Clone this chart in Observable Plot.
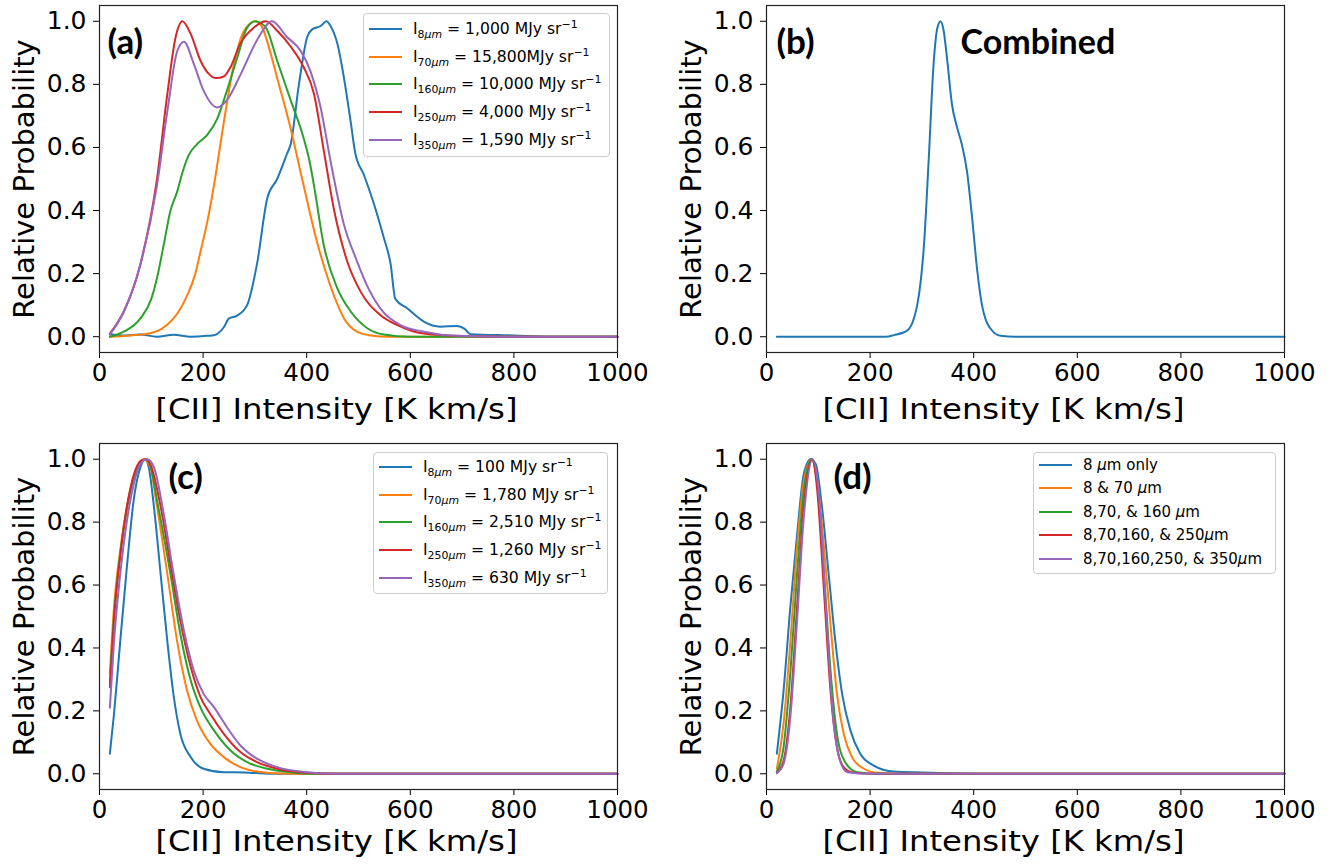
<!DOCTYPE html>
<html><head><meta charset="utf-8">
<script src="https://cdn.jsdelivr.net/npm/d3@7"></script>
<script src="https://cdn.jsdelivr.net/npm/@observablehq/plot@0.6"></script>
<style>
body{margin:0;background:#fff;}
#wrap{position:relative;width:1338px;height:865px;overflow:hidden;font-family:"DejaVu Sans",sans-serif;}
.panel{position:absolute;}
.legend{position:absolute;background:rgba(255,255,255,0.8);border:1px solid #cccccc;border-radius:4px;box-sizing:border-box;font-family:"DejaVu Sans",sans-serif;color:#000;}
.row{display:flex;align-items:center;white-space:nowrap;}
.swatch{display:inline-block;width:33px;height:2px;margin-right:11px;flex:none;}
.legend sub,.legend sup{font-size:0.7em;line-height:0;}
.legend sub{vertical-align:-0.35em;}
.legend sup{vertical-align:0.55em;}
</style></head><body><div id="wrap"></div>
<script>
// ---------- data ----------
const xTicks = [0, 200, 400, 600, 800, 1000];
const yTicks = [0, 0.2, 0.4, 0.6, 0.8, 1.0];
const colors = ["#1f77b4", "#ff7f0e", "#2ca02c", "#d62728", "#9467bd"];
const bands = ["8", "70", "160", "250", "350"];
const xLabel = "[CII] Intensity [K km/s]";
const yLabel = "Relative Probability";
const tags = ["(a)", "(b)", "(c)", "(d)"];
const combinedLabel = "Combined";

// panel (a): high-intensity inputs
const a8 = [[20,0.008],[50,0.004],[79,0.007],[111,0.0],[143,0.006],[176,0.0],[208,0.003],[221,0.005],[240,0.03],[250,0.058],[266,0.067],[285,0.10],[304,0.23],[324,0.44],[343,0.50],[362,0.58],[369,0.61],[385,0.8],[401,0.95],[411,0.975],[427,0.985],[438,1.0],[446,0.985],[459,0.93],[472,0.82],[485,0.68],[494,0.58],[510,0.515],[530,0.42],[549,0.313],[562,0.23],[571,0.12],[594,0.09],[626,0.048],[658,0.032],[690,0.034],[705,0.025],[716,0.008],[800,0.004],[870,0.0],[1000,0.0]];
const a70 = [[20,0.0],[60,0.004],[100,0.012],[120,0.025],[143,0.058],[160,0.1],[169,0.13],[185,0.2],[195,0.27],[210,0.38],[221,0.48],[240,0.68],[259,0.86],[279,0.97],[302,1.0],[317,0.97],[330,0.9],[343,0.82],[369,0.66],[394,0.48],[420,0.30],[446,0.16],[460,0.1],[472,0.058],[497,0.016],[520,0.005],[560,0.0],[1000,0.0]];
const a160 = [[20,0.0],[47,0.016],[79,0.058],[100,0.12],[111,0.186],[125,0.3],[137,0.40],[150,0.46],[160,0.52],[172,0.575],[188,0.61],[208,0.64],[227,0.69],[246,0.78],[266,0.885],[285,0.98],[301,1.0],[321,0.98],[343,0.875],[369,0.75],[394,0.63],[405,0.56],[414,0.48],[433,0.29],[459,0.154],[485,0.08],[517,0.027],[549,0.007],[600,0.0],[1000,0.0]];
const a250 = [[20,0.01],[47,0.08],[79,0.23],[111,0.50],[131,0.77],[147,0.95],[160,1.0],[176,0.96],[195,0.875],[210,0.835],[225,0.82],[240,0.825],[253,0.855],[272,0.93],[298,0.98],[321,1.0],[343,0.97],[369,0.92],[394,0.855],[414,0.77],[433,0.59],[453,0.40],[478,0.24],[504,0.143],[542,0.069],[575,0.037],[626,0.01],[700,0.002],[800,0.0],[1000,0.0]];
const a350 = [[20,0.007],[47,0.08],[79,0.23],[111,0.48],[131,0.715],[150,0.905],[163,0.935],[182,0.865],[201,0.78],[227,0.727],[246,0.75],[272,0.83],[304,0.94],[333,1.0],[362,0.95],[388,0.907],[407,0.843],[427,0.726],[446,0.557],[472,0.355],[497,0.24],[520,0.15],[542,0.09],[581,0.037],[626,0.016],[690,0.003],[800,0.0],[1000,0.0]];
const aValues = ["1,000 MJy", "15,800MJy", "10,000 MJy", "4,000 MJy", "1,590 MJy"];

// panel (b): combined
const bComb = [[20,0.0],[230,0.0],[246,0.005],[272,0.02],[285,0.06],[291,0.1],[298,0.18],[304,0.29],[313,0.557],[323,0.875],[330,0.98],[336,1.0],[342,0.97],[349,0.875],[358,0.737],[368,0.663],[377,0.61],[387,0.525],[397,0.376],[407,0.207],[416,0.1],[424,0.05],[432,0.027],[452,0.003],[480,0.0],[1000,0.0]];

// panel (c): low-intensity inputs
const c8 = [[20,0.064],[28,0.19],[40,0.42],[53,0.66],[66,0.87],[79,0.975],[88,1.0],[95,0.975],[105,0.85],[118,0.635],[131,0.42],[143,0.25],[156,0.127],[176,0.053],[201,0.016],[240,0.005],[280,0.004],[330,0.0],[1000,0.0]];
const c70 = [[20,0.32],[28,0.53],[40,0.71],[53,0.85],[66,0.94],[79,0.995],[86,1.0],[98,0.975],[111,0.85],[131,0.635],[150,0.42],[169,0.265],[188,0.17],[214,0.095],[240,0.053],[272,0.021],[304,0.007],[350,0.001],[400,0.0],[1000,0.0]];
const c160 = [[20,0.29],[28,0.5],[40,0.7],[53,0.845],[66,0.94],[79,0.99],[89,1.0],[98,0.98],[111,0.87],[137,0.635],[156,0.445],[176,0.297],[195,0.21],[221,0.138],[253,0.074],[285,0.037],[324,0.016],[369,0.005],[420,0.0],[1000,0.0]];
const c250 = [[20,0.275],[28,0.49],[40,0.69],[53,0.85],[66,0.95],[80,0.995],[90,1.0],[98,0.985],[118,0.85],[137,0.667],[156,0.487],[176,0.34],[195,0.244],[214,0.19],[240,0.127],[272,0.069],[304,0.037],[343,0.016],[401,0.003],[450,0.0],[1000,0.0]];
const c350 = [[20,0.21],[28,0.42],[40,0.635],[53,0.805],[66,0.92],[79,0.985],[92,1.0],[105,0.975],[124,0.826],[143,0.635],[163,0.455],[182,0.328],[201,0.254],[221,0.212],[246,0.148],[272,0.09],[304,0.048],[343,0.021],[401,0.005],[460,0.0],[1000,0.0]];
const cValues = ["100 MJy", "1,780 MJy", "2,510 MJy", "1,260 MJy", "630 MJy"];

// panel (d): cumulative combinations
const d8 = [[20,0.064],[33,0.265],[46,0.53],[59,0.76],[72,0.953],[85,1.0],[95,0.985],[107,0.85],[120,0.635],[133,0.42],[146,0.254],[162,0.138],[181,0.064],[207,0.026],[246,0.007],[300,0.004],[350,0.002],[420,0.0],[1000,0.0]];
const d70 = [[20,0.016],[33,0.16],[46,0.42],[59,0.72],[72,0.93],[87,1.0],[98,0.93],[111,0.72],[124,0.466],[136,0.254],[149,0.127],[165,0.053],[188,0.016],[215,0.003],[260,0.0],[1000,0.0]];
const d160 = [[20,0.007],[33,0.085],[46,0.32],[59,0.635],[72,0.9],[87,1.0],[98,0.92],[111,0.635],[124,0.32],[136,0.127],[152,0.037],[175,0.005],[220,0.0],[1000,0.0]];
const d250 = [[20,0.003],[33,0.042],[46,0.21],[59,0.53],[72,0.85],[88,1.0],[98,0.9],[111,0.58],[124,0.254],[136,0.085],[149,0.021],[168,0.003],[210,0.0],[1000,0.0]];
const d350 = [[20,0.002],[33,0.032],[46,0.18],[59,0.487],[72,0.816],[89,1.0],[101,0.89],[114,0.55],[127,0.21],[140,0.053],[156,0.005],[200,0.0],[1000,0.0]];
const dLabels = ["8 <i>μ</i>m only", "8 &amp; 70 <i>μ</i>m", "8,70, &amp; 160 <i>μ</i>m", "8,70,160, &amp; 250<i>μ</i>m", "8,70,160,250, &amp; 350<i>μ</i>m"];

// ---------- drawing ----------
const wrap = document.getElementById("wrap");

function toRows(seriesList) {
  const rows = [];
  seriesList.forEach((pts, i) => pts.forEach(([x, y]) => rows.push({x, y, s: i})));
  return rows;
}

function makePanel(cfg) {
  const rows = toRows(cfg.series);
  const marks = [
    Plot.axisX({ticks: xTicks, tickFormat: d => String(d), tickSize: 6, tickPadding: 5, fontSize: 24.5, label: null}),
    Plot.axisY({ticks: yTicks, tickFormat: d3.format(".1f"), tickSize: 6, tickPadding: 7, fontSize: 25, label: null}),
    Plot.line(rows, {x: "x", y: "y", z: "s", stroke: d => colors[d.s], curve: "monotone-x", strokeWidth: 2}),
    Plot.frame({stroke: "#222", strokeWidth: 1.2}),
    Plot.text([xLabel], {text: d => d, frameAnchor: "bottom", textAnchor: "middle", dx: -22, dy: cfg.xlDy, fontSize: 28, fill: "black"}),
    Plot.text([yLabel], {text: d => d, frameAnchor: "left", textAnchor: "middle", rotate: -90, dx: -75, fontSize: 29, fill: "black"}),
    Plot.text([cfg.tag], {text: d => d, frameAnchor: "top-left", textAnchor: "start", lineAnchor: "top", dx: cfg.tagDx, dy: cfg.tagDy, fontFamily: "Lato", fontWeight: "bold", fontSize: 35, fill: "black"})
  ];
  if (cfg.extra) marks.push(Plot.text([cfg.extra], {text: d => d, frameAnchor: "top-left", textAnchor: "start", lineAnchor: "top", dx: cfg.extraDx, dy: cfg.tagDy, fontFamily: "Lato", fontWeight: "bold", fontSize: 34, fill: "black"}));
  const svg = Plot.plot({
    width: 669, height: cfg.h,
    marginLeft: cfg.ml, marginRight: cfg.mr, marginTop: cfg.mt, marginBottom: cfg.mb,
    style: {fontFamily: "DejaVu Sans", fontSize: "22px", color: "black", background: "white", overflow: "visible"},
    x: {domain: [0, 1000]},
    y: {domain: [-0.05, 1.05]},
    marks
  });
  // the reference's x-axis title is drawn slightly wider than its height suggests
  d3.select(svg).selectAll("text").filter(function () { return this.textContent === xLabel; })
    .attr("textLength", 362).attr("lengthAdjust", "spacingAndGlyphs");
  const div = document.createElement("div");
  div.className = "panel";
  div.style.left = cfg.left + "px";
  div.style.top = cfg.top + "px";
  div.appendChild(svg);
  wrap.appendChild(div);
}

function makeLegend(cfg) {
  const box = document.createElement("div");
  box.className = "legend";
  Object.assign(box.style, {left: cfg.left + "px", top: cfg.top + "px", width: cfg.width + "px", height: cfg.height + "px", paddingTop: cfg.padTop + "px", paddingLeft: "5px", fontSize: cfg.fontSize + "px"});
  cfg.labels.forEach((html, i) => {
    const row = document.createElement("div");
    row.className = "row";
    row.style.height = cfg.rowH + "px";
    const sw = document.createElement("span");
    sw.className = "swatch";
    sw.style.background = colors[i];
    const tx = document.createElement("span");
    tx.innerHTML = html;
    row.appendChild(sw);
    row.appendChild(tx);
    box.appendChild(row);
  });
  wrap.appendChild(box);
}

const bandLabel = (b, v) => `I<sub>${b}<i>μm</i></sub> = ${v} sr<sup>−1</sup>`;

makePanel({series: [a8, a70, a160, a250, a350], left: 0, top: 0, h: 432, ml: 99, mr: 52, mt: 5, mb: 80, tag: tags[0], tagDx: 8, tagDy: 24, xlDy: 66});
makePanel({series: [bComb], left: 669, top: 0, h: 432, ml: 97, mr: 54, mt: 5, mb: 80, tag: tags[1], tagDx: 10, tagDy: 24, extra: combinedLabel, extraDx: 194, xlDy: 66});
makePanel({series: [c8, c70, c160, c250, c350], left: 0, top: 432, h: 433, ml: 99, mr: 52, mt: 11, mb: 76, tag: tags[2], tagDx: 69, tagDy: 21, xlDy: 61});
makePanel({series: [d8, d70, d160, d250, d350], left: 669, top: 432, h: 433, ml: 97, mr: 54, mt: 11, mb: 76, tag: tags[3], tagDx: 67, tagDy: 21, xlDy: 61});

makeLegend({left: 363, top: 13, width: 247, height: 144, rowH: 27.7, padTop: 1, fontSize: 15.6, labels: bands.map((b, i) => bandLabel(b, aValues[i]))});
makeLegend({left: 373, top: 452, width: 235, height: 142, rowH: 27.7, padTop: 0, fontSize: 15.6, labels: bands.map((b, i) => bandLabel(b, cValues[i]))});
makeLegend({left: 1033, top: 452, width: 243, height: 122, rowH: 23.5, padTop: 0, fontSize: 15, labels: dLabels});
</script></body></html>
